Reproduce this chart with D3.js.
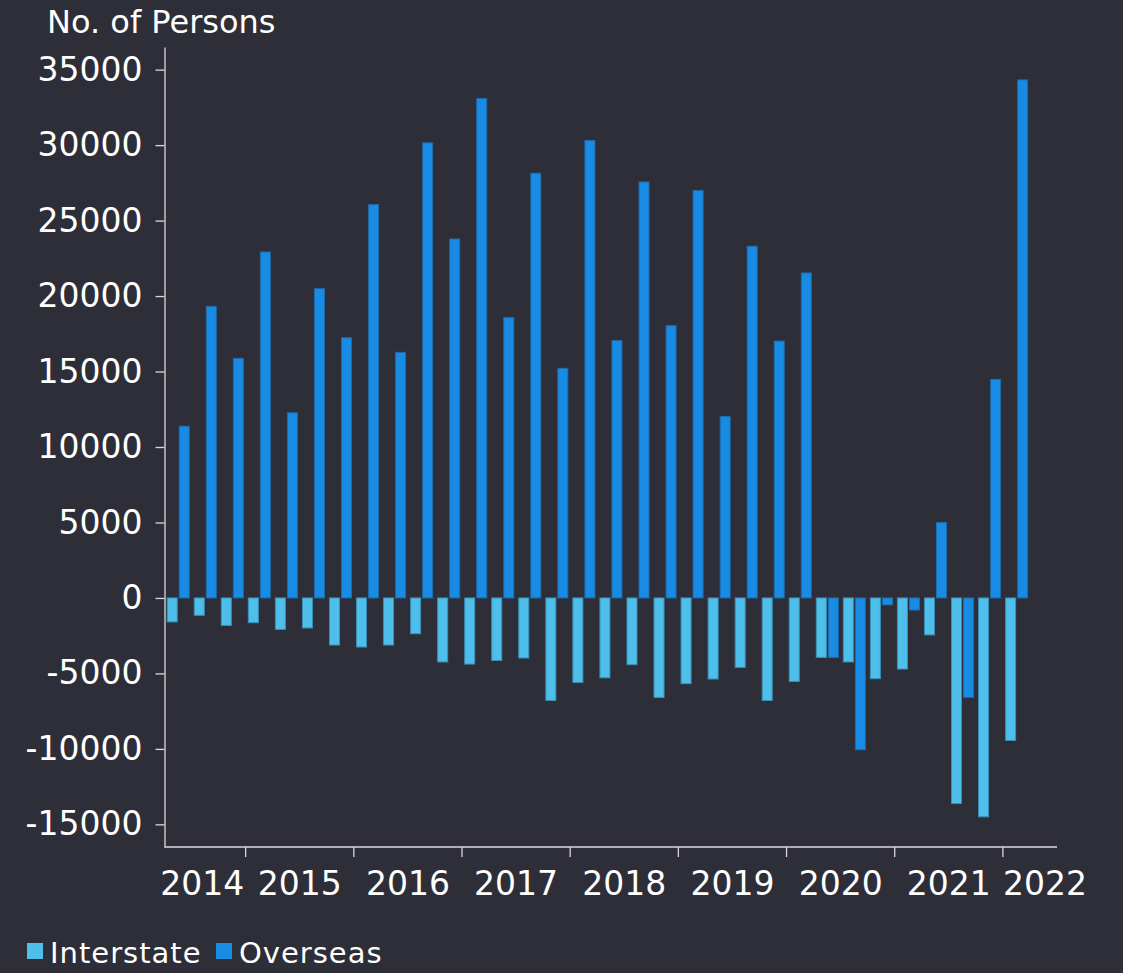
<!DOCTYPE html>
<html>
<head>
<meta charset="utf-8">
<script src="https://cdn.jsdelivr.net/npm/d3@7"></script>
<style>
  body { margin: 0; background: #2e2e38; }
  text { font-family: "DejaVu Sans", sans-serif; fill: #ffffff; }
  .axis path, .axis line { stroke: #d8d8dc; stroke-width: 1.3; }
</style>
</head>
<body>
<div id="chart"></div>
<script>
// Quarters shown on the chart (last one has no data yet).
const quarters = [
    "2014-Q2", "2014-Q3", "2014-Q4",
    "2015-Q1", "2015-Q2", "2015-Q3", "2015-Q4",
    "2016-Q1", "2016-Q2", "2016-Q3", "2016-Q4",
    "2017-Q1", "2017-Q2", "2017-Q3", "2017-Q4",
    "2018-Q1", "2018-Q2", "2018-Q3", "2018-Q4",
    "2019-Q1", "2019-Q2", "2019-Q3", "2019-Q4",
    "2020-Q1", "2020-Q2", "2020-Q3", "2020-Q4",
    "2021-Q1", "2021-Q2", "2021-Q3", "2021-Q4",
    "2022-Q1", "2022-Q2"
];
const years = ["2014", "2015", "2016", "2017", "2018", "2019", "2020", "2021", "2022"];
const series = ["Interstate", "Overseas"];

// Net migration, persons per quarter
const interstate = [-1590, -1150, -1820, -1640, -2080, -1990, -3120, -3250, -3120, -2370,
    -4240, -4380, -4140, -3980, -6790, -5600, -5290, -4420, -6590, -5680, -5370, -4600,
    -6790, -5530, -3940, -4240, -5350, -4710, -2450, -13620, -14500, -9440, null];
const overseas = [11380, 19320, 15870, 22920, 12270, 20490, 17240, 26060, 16270, 30150,
    23780, 33090, 18570, 28140, 15210, 30310, 17060, 27560, 18040, 26990, 12020, 23300,
    17020, 21530, -3940, -10060, -460, -800, 4990, -6590, 14480, 34320, null];
const yTicks = [-15000, -10000, -5000, 0, 5000, 10000, 15000, 20000, 25000, 30000, 35000];

const width = 1123;
const height = 973;
const margin = { top: 47, right: 66, bottom: 126, left: 164.5 };
const colors = { Interstate: "#4ebeeb", Overseas: "#188ce5" };
const strokes = { Interstate: "#3a8fb5", Overseas: "#1f6aa8" };

const svg = d3.select("#chart")
    .append("svg")
    .attr("width", width)
    .attr("height", height);

// Outer band per quarter, inner band per series
const x0 = d3.scaleBand()
    .domain(quarters)
    .range([margin.left, width - margin.right])
    .padding(0);

const x1 = d3.scaleBand()
    .domain(series)
    .range([2.7, x0.bandwidth() - 2.3])
    .paddingInner(1 / 6)
    .paddingOuter(0);

const y = d3.scaleLinear()
    .domain([-16500, 36500])
    .range([height - margin.bottom, margin.top]);

const rows = quarters.map(function(q, i) {
    return { q: q, Interstate: interstate[i], Overseas: overseas[i] };
});

// Bars
const groups = svg.append("g")
    .selectAll("g")
    .data(rows)
    .join("g")
    .attr("transform", function(d) { return `translate(${x0(d.q)},0)`; });

groups.selectAll("rect")
    .data(function(d) {
        return series.filter(function(s) { return d[s] != null; })
            .map(function(s) { return { s: s, v: d[s] }; });
    })
    .join("rect")
    .attr("x", function(d) { return x1(d.s); })
    .attr("y", function(d) { return y(Math.max(0, d.v)); })
    .attr("width", x1.bandwidth())
    .attr("height", function(d) { return Math.abs(y(d.v) - y(0)); })
    .attr("fill", function(d) { return colors[d.s]; })
    .attr("stroke", function(d) { return strokes[d.s]; })
    .attr("stroke-width", 1);

// Y axis, plain numbers with a hyphen for negatives
const yAxis = svg.append("g")
    .attr("class", "axis")
    .attr("transform", `translate(${margin.left},0)`)
    .call(d3.axisLeft(y)
        .tickValues(yTicks)
        .tickFormat(function(d) { return String(d); })
        .tickSize(9)
        .tickSizeOuter(0)
        .tickPadding(13));
yAxis.selectAll("text")
    .style("font-size", "33px")
    .attr("fill", "#ffffff");

// X axis: baseline at the bottom with ticks at year boundaries
const xAxis = svg.append("g").attr("class", "axis");
const axisY = height - margin.bottom;
xAxis.append("line")
    .attr("x1", margin.left)
    .attr("x2", width - margin.right)
    .attr("y1", axisY)
    .attr("y2", axisY);

years.forEach(function(yr, i) {
    const qs = quarters.filter(function(q) { return q.startsWith(yr); });
    const start = x0(qs[0]);
    const end = x0(qs[qs.length - 1]) + x0.bandwidth();
    if (i > 0) {
        xAxis.append("line")
            .attr("x1", start).attr("x2", start)
            .attr("y1", axisY).attr("y2", axisY + 10);
    }
    let lx = (start + end) / 2;
    let anchor = "middle";
    if (i === 0) { lx = end - 1.5; anchor = "end"; }
    if (i === years.length - 1) { lx = start; anchor = "start"; }
    svg.append("text")
        .attr("x", lx)
        .attr("y", axisY + 48)
        .attr("text-anchor", anchor)
        .style("font-size", "33px")
        .text(yr);
});

// Axis title
svg.append("text")
    .attr("x", 47)
    .attr("y", 33)
    .style("font-size", "32px")
    .text("No. of Persons");

// Legend
const legend = svg.append("g");
const legendX = [27, 216];
series.forEach(function(s, i) {
    legend.append("rect")
        .attr("x", legendX[i])
        .attr("y", 943)
        .attr("width", 16)
        .attr("height", 16)
        .attr("fill", colors[s]);
    legend.append("text")
        .attr("x", legendX[i] + 23)
        .attr("y", 963)
        .style("font-size", "29px")
        .style("letter-spacing", "1px")
        .text(s);
});
</script>
</body>
</html>
